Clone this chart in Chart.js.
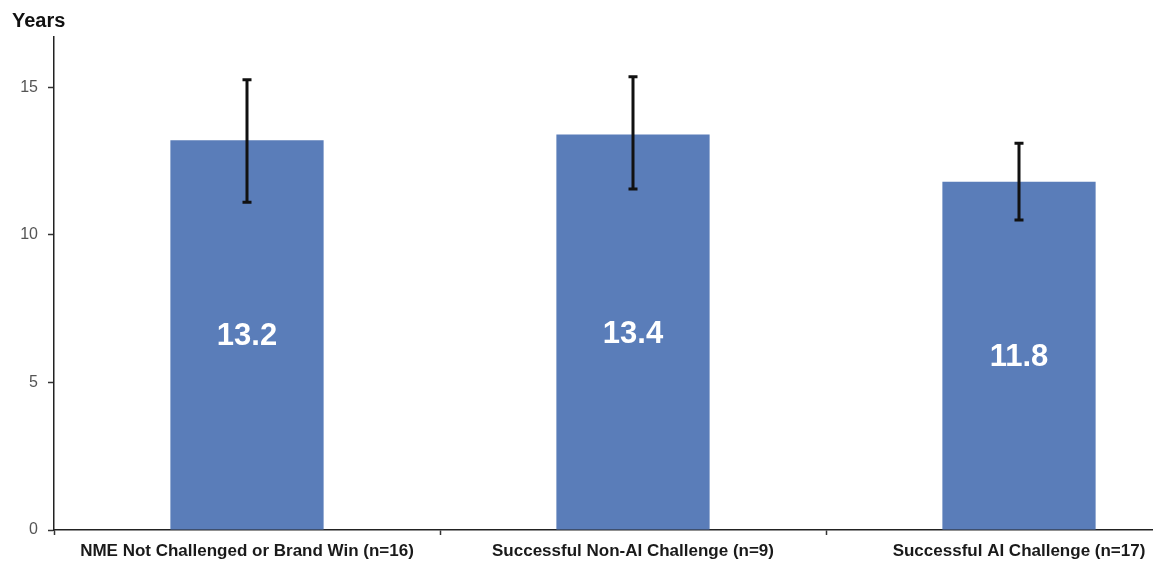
<!DOCTYPE html>
<html>
<head>
<meta charset="utf-8">
<title>Years</title>
<script src="https://cdn.jsdelivr.net/npm/chart.js@4/dist/chart.umd.min.js"></script>
<style>
  html, body { margin: 0; padding: 0; background: #fff; overflow: hidden; }
  #wrap { position: relative; width: 1212px; height: 563px; }
</style>
</head>
<body>
<div id="wrap"><canvas id="c" width="1212" height="563"></canvas></div>
<script>
// Categories and values
const categories = [
  'NME Not Challenged or Brand Win (n=16)',
  'Successful Non-AI Challenge (n=9)',
  'Successful AI Challenge (n=17)'
];
const meanYears = [13.2, 13.4, 11.8];
const errorHigh = [15.25, 15.35, 13.1];
const errorLow = [11.1, 11.55, 10.5];
const yTicks = [0, 5, 10, 15];
const axisTitle = 'Years';

const FONT = '"Liberation Sans", Arial, sans-serif';

// Vertical error bars with flat caps, placed through the chart's scales
const errorBarPlugin = {
  id: 'errorBars',
  afterDatasetsDraw(chart) {
    const { ctx, scales: { y } } = chart;
    const meta = chart.getDatasetMeta(0);
    ctx.save();
    ctx.strokeStyle = '#111';
    ctx.lineWidth = 3;
    ctx.lineCap = 'butt';
    meta.data.forEach((bar, i) => {
      const x = bar.x;
      const yHi = y.getPixelForValue(errorHigh[i]);
      const yLo = y.getPixelForValue(errorLow[i]);
      ctx.beginPath();
      ctx.moveTo(x, yHi);
      ctx.lineTo(x, yLo);
      ctx.moveTo(x - 4.5, yHi);
      ctx.lineTo(x + 4.5, yHi);
      ctx.moveTo(x - 4.5, yLo);
      ctx.lineTo(x + 4.5, yLo);
      ctx.stroke();
    });
    ctx.restore();
  }
};

// Value labels centred inside each bar
const barLabelPlugin = {
  id: 'barLabels',
  afterDatasetsDraw(chart) {
    const { ctx } = chart;
    const meta = chart.getDatasetMeta(0);
    ctx.save();
    ctx.fillStyle = '#ffffff';
    ctx.font = 'bold 31px ' + FONT;
    ctx.textAlign = 'center';
    ctx.textBaseline = 'middle';
    meta.data.forEach((bar, i) => {
      ctx.fillText(meanYears[i].toFixed(1), bar.x, (bar.y + bar.base) / 2 + 2);
    });
    ctx.restore();
  }
};

// Unit label above the value axis
const unitLabelPlugin = {
  id: 'unitLabel',
  afterDraw(chart) {
    const { ctx } = chart;
    ctx.save();
    ctx.fillStyle = '#111';
    ctx.font = 'bold 20px ' + FONT;
    ctx.textAlign = 'left';
    ctx.textBaseline = 'alphabetic';
    ctx.fillText(axisTitle, 12, 27);
    ctx.restore();
  }
};

new Chart(document.getElementById('c'), {
  type: 'bar',
  data: {
    labels: categories,
    datasets: [{
      data: meanYears,
      backgroundColor: '#5A7DB9',
      borderWidth: 0,
      categoryPercentage: 1.0,
      barPercentage: 0.397
    }]
  },
  options: {
    responsive: false,
    animation: false,
    devicePixelRatio: 1,
    layout: { padding: { top: 37, left: 0, right: 0, bottom: 0 } },
    plugins: {
      legend: { display: false },
      tooltip: { enabled: false },
      title: { display: false }
    },
    scales: {
      x: {
        afterFit(scale) { scale.height = 33; },
        grid: {
          display: true,
          offset: true,
          drawOnChartArea: false,
          tickLength: 5,
          tickColor: '#333',
          tickWidth: 1.5
        },
        border: { display: true, color: '#222', width: 1.5 },
        ticks: {
          color: '#1a1a1a',
          padding: 6,
          maxRotation: 0,
          autoSkip: false,
          font: { family: FONT, size: 17, weight: 'bold' }
        }
      },
      y: {
        min: 0,
        max: 16.7,
        afterFit(scale) { scale.width = 54; },
        afterBuildTicks(scale) {
          scale.ticks = yTicks.map(v => ({ value: v }));
        },
        grid: {
          display: true,
          drawOnChartArea: false,
          tickLength: 6,
          tickColor: '#333',
          tickWidth: 1.5
        },
        border: { display: true, color: '#222', width: 1.5 },
        ticks: {
          color: '#555',
          padding: 10,
          font: { family: FONT, size: 16 }
        }
      }
    }
  },
  plugins: [errorBarPlugin, barLabelPlugin, unitLabelPlugin]
});
</script>
</body>
</html>
